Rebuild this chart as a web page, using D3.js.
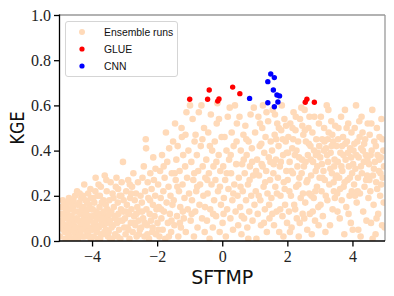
<!DOCTYPE html>
<html lang="en">
  <head>
    <meta charset="UTF-8" />
    <title>KGE vs SFTMP</title>
    <style>
      body { margin: 0; background: #fff; }
      .tick-label { font-family: "Liberation Serif", serif; font-size: 16px; fill: #222; }
      .axis-label { font-family: "DejaVu Sans", sans-serif; font-size: 19px; fill: #111; }
      .legend-text { font-family: "Liberation Sans", sans-serif; font-size: 10.4px; fill: #111; }
    </style>
  </head>
  <body>
    <script src="https://cdn.jsdelivr.net/npm/d3@7"></script>
    <script>

      // tick values
      var xTicks = [-4, -2, 0, 2, 4];
      var yTicks = [0, 0.2, 0.4, 0.6, 0.8, 1.0];

      // GLUE selected runs [SFTMP, KGE]
      var glueRuns = [[-1.00,0.627],[-0.40,0.668],[-0.45,0.627],[-0.14,0.619],[-0.10,0.628],
                      [0.32,0.681],[0.54,0.652],[2.55,0.614],[2.60,0.627],[2.83,0.614]];

      // CNN runs [SFTMP, KGE]
      var cnnRuns = [[0.84,0.631],[1.40,0.705],[1.49,0.739],[1.60,0.723],[1.57,0.668],
                     [1.68,0.646],[1.76,0.642],[1.71,0.615],[1.40,0.612],[1.60,0.594]];

      // ensemble runs [SFTMP, KGE], read band by band
      var ensembleRuns = [
        [-4.98,0.02],[-4.95,0.09],[-4.93,0.15],[-4.9,0.18],[-4.88,0.05],[-4.85,0.12],[-4.82,0.01],[-4.8,0.07],[-4.78,0.16],[-4.76,0.11],
        [-4.73,0.03],[-4.71,0.19],[-4.7,0.09],[-4.67,0.14],[-4.65,0.05],[-4.62,0.17],[-4.6,0.01],[-4.58,0.1],[-4.56,0.07],[-4.54,0.13],
        [-4.52,0.2],[-4.51,0.03],[-4.96,0.12],[-4.91,0.08],[-4.86,0.17],[-4.83,0.04],[-4.77,0.13],[-4.74,0.06],[-4.69,0.02],[-4.64,0.11],
        [-4.59,0.15],[-4.55,0.04],[-4.99,0.06],[-4.87,0.1],[-4.72,0.17],[-4.63,0.08],[-4.57,0.18],[-4.53,0.09],[-4.81,0.14],[-4.66,0.0],
        [-4.48,0.06],[-4.46,0.22],[-4.45,0.13],[-4.43,0.01],[-4.41,0.09],[-4.39,0.17],[-4.37,0.04],[-4.35,0.12],[-4.33,0.19],[-4.31,0.07],
        [-4.29,0.02],[-4.27,0.15],[-4.25,0.1],[-4.24,0.25],[-4.22,0.05],[-4.2,0.18],[-4.18,0.13],[-4.16,0.08],[-4.14,0.03],[-4.12,0.21],
        [-4.1,0.11],[-4.08,0.16],[-4.06,0.06],[-4.04,0.01],[-4.02,0.14],[-4.44,0.16],[-4.4,0.03],[-4.36,0.08],[-4.32,0.14],[-4.28,0.2],
        [-4.23,0.02],[-4.19,0.07],[-4.15,0.17],[-4.11,0.04],[-4.07,0.09],[-4.03,0.19],[-4.47,0.1],[-4.34,0.05],[-4.21,0.12],[-4.09,0.02],
        [-4.38,0.21],[-4.26,0.09],[-4.13,0.14],[-4.05,0.23],
        [-3.99,0.05],[-3.97,0.11],[-3.95,0.02],[-3.93,0.17],[-3.91,0.08],[-3.89,0.28],[-3.87,0.13],[-3.85,0.04],[-3.83,0.2],[-3.81,0.1],
        [-3.79,0.06],[-3.77,0.15],[-3.75,0.01],[-3.73,0.24],[-3.71,0.09],[-3.69,0.12],[-3.67,0.03],[-3.65,0.18],[-3.63,0.07],[-3.61,0.29],
        [-3.59,0.11],[-3.57,0.05],[-3.55,0.22],[-3.53,0.14],[-3.51,0.02],[-3.98,0.14],[-3.94,0.08],[-3.9,0.22],[-3.86,0.1],[-3.82,0.01],
        [-3.78,0.12],[-3.74,0.07],[-3.7,0.17],[-3.66,0.1],[-3.62,0.04],[-3.58,0.16],[-3.54,0.08],[-3.96,0.19],[-3.88,0.06],[-3.8,0.25],
        [-3.72,0.03],[-3.64,0.13],[-3.56,0.27],[-3.52,0.1],[-3.76,0.2],
        [-3.49,0.04],[-3.47,0.18],[-3.45,0.09],[-3.43,0.26],[-3.41,0.13],[-3.39,0.01],[-3.37,0.21],[-3.35,0.07],[-3.33,0.15],[-3.31,0.11],
        [-3.29,0.03],[-3.27,0.24],[-3.25,0.28],[-3.23,0.08],[-3.21,0.17],[-3.19,0.12],[-3.17,0.05],[-3.15,0.2],[-3.13,0.01],[-3.11,0.14],
        [-3.09,0.26],[-3.07,0.09],[-3.05,0.35],[-3.03,0.18],[-3.01,0.06],[-3.46,0.12],[-3.4,0.06],[-3.34,0.19],[-3.28,0.1],[-3.22,0.02],
        [-3.16,0.09],[-3.1,0.2],[-3.04,0.13],[-3.44,0.01],[-3.2,0.23],
        [-2.99,0.1],[-2.97,0.03],[-2.95,0.22],[-2.93,0.16],[-2.91,0.06],[-2.89,0.27],[-2.87,0.12],[-2.85,0.01],[-2.83,0.19],[-2.81,0.08],
        [-2.79,0.14],[-2.77,0.24],[-2.75,0.04],[-2.73,0.3],[-2.71,0.11],[-2.69,0.18],[-2.67,0.07],[-2.65,0.21],[-2.63,0.02],[-2.61,0.15],
        [-2.59,0.26],[-2.57,0.09],[-2.55,0.13],[-2.53,0.05],[-2.51,0.2],[-2.96,0.13],[-2.88,0.05],[-2.8,0.21],[-2.72,0.08],[-2.64,0.12],
        [-2.56,0.03],[-2.84,0.25],
        [-2.49,0.06],[-2.47,0.17],[-2.45,0.28],[-2.43,0.1],[-2.41,0.33],[-2.39,0.02],[-2.37,0.22],[-2.35,0.45],[-2.34,0.41],[-2.33,0.14],
        [-2.31,0.07],[-2.29,0.26],[-2.27,0.19],[-2.25,0.01],[-2.23,0.12],[-2.21,0.3],[-2.19,0.09],[-2.17,0.23],[-2.15,0.04],[-2.13,0.16],
        [-2.12,0.37],[-2.1,0.27],[-2.08,0.11],[-2.06,0.2],[-2.04,0.03],[-2.02,0.14],[-2.46,0.13],[-2.38,0.08],[-2.3,0.03],[-2.22,0.18],
        [-2.14,0.06],[-2.05,0.32],
        [-1.99,0.08],[-1.97,0.25],[-1.95,0.15],[-1.93,0.02],[-1.91,0.31],[-1.89,0.19],[-1.87,0.1],[-1.85,0.38],[-1.83,0.05],[-1.81,0.22],
        [-1.79,0.13],[-1.77,0.28],[-1.75,0.01],[-1.73,0.48],[-1.71,0.17],[-1.69,0.35],[-1.67,0.08],[-1.65,0.24],[-1.63,0.41],[-1.61,0.12],
        [-1.59,0.2],[-1.57,0.04],[-1.55,0.3],[-1.53,0.16],[-1.51,0.44],[-1.96,0.05],[-1.88,0.14],[-1.8,0.33],[-1.64,0.02],[-1.56,0.09],
        [-1.49,0.18],[-1.47,0.07],[-1.45,0.52],[-1.43,0.27],[-1.41,0.36],[-1.39,0.11],[-1.37,0.42],[-1.35,0.02],[-1.33,0.22],[-1.31,0.31],
        [-1.29,0.15],[-1.27,0.06],[-1.25,0.5],[-1.24,0.46],[-1.22,0.25],[-1.2,0.38],[-1.18,0.1],[-1.16,0.19],[-1.14,0.33],[-1.12,0.04],
        [-1.1,0.57],[-1.08,0.28],[-1.06,0.14],[-1.04,0.4],[-1.02,0.21],[-1.46,0.3],[-1.38,0.24],[-1.3,0.08],[-1.21,0.13],[-1.13,0.47],
        [-0.99,0.6],[-0.97,0.09],[-0.95,0.35],[-0.93,0.18],[-0.91,0.54],[-0.89,0.27],[-0.87,0.02],[-0.85,0.44],[-0.83,0.13],[-0.82,0.47],
        [-0.8,0.22],[-0.78,0.38],[-0.76,0.06],[-0.74,0.31],[-0.72,0.57],[-0.7,0.16],[-0.68,0.25],[-0.66,0.42],[-0.64,0.6],[-0.62,0.1],
        [-0.6,0.33],[-0.58,0.2],[-0.56,0.5],[-0.54,0.04],[-0.52,0.28],[-0.94,0.12],[-0.86,0.3],[-0.77,0.24],[-0.61,0.45],[-0.53,0.15],
        [-0.49,0.36],[-0.47,0.09],[-0.45,0.21],[-0.43,0.48],[-0.41,0.3],[-0.39,0.01],[-0.37,0.14],[-0.35,0.56],[-0.33,0.25],[-0.31,0.4],
        [-0.29,0.06],[-0.27,0.33],[-0.25,0.18],[-0.23,0.44],[-0.21,0.27],[-0.19,0.11],[-0.17,0.52],[-0.15,0.61],[-0.13,0.22],[-0.11,0.38],
        [-0.1,0.54],[-0.08,0.04],[-0.06,0.31],[-0.04,0.16],[-0.02,0.46],[-0.46,0.27],[-0.38,0.42],[-0.28,0.12],[-0.18,0.35],[-0.07,0.24],
        [0.01,0.08],[0.03,0.33],[0.05,0.19],[0.07,0.46],[0.09,0.27],[0.11,0.02],[0.13,0.4],[0.15,0.14],[0.17,0.55],[0.19,0.23],
        [0.21,0.36],[0.23,0.59],[0.25,0.1],[0.27,0.3],[0.29,0.48],[0.31,0.18],[0.33,0.05],[0.35,0.42],[0.37,0.25],[0.39,0.6],
        [0.41,0.13],[0.43,0.34],[0.45,0.52],[0.47,0.2],[0.49,0.07],[0.04,0.12],[0.14,0.3],[0.26,0.38],[0.34,0.21],[0.44,0.44],
        [0.51,0.28],[0.53,0.55],[0.55,0.15],[0.57,0.4],[0.59,0.03],[0.61,0.34],[0.63,0.22],[0.65,0.47],[0.67,0.1],[0.69,0.3],
        [0.71,0.51],[0.73,0.18],[0.75,0.38],[0.77,0.06],[0.79,0.25],[0.81,0.44],[0.83,0.13],[0.85,0.33],[0.87,0.56],[0.89,0.2],
        [0.91,0.41],[0.93,0.09],[0.95,0.29],[0.97,0.59],[0.99,0.16],[0.56,0.24],[0.66,0.36],[0.74,0.45],[0.84,0.27],[0.92,0.35],
        [0.6,0.11],[0.8,0.01],
        [1.01,0.48],[1.03,0.22],[1.05,0.01],[1.07,0.36],[1.09,0.12],[1.11,0.55],[1.13,0.29],[1.15,0.42],[1.17,0.18],[1.19,0.07],
        [1.21,0.34],[1.23,0.5],[1.25,0.6],[1.27,0.24],[1.29,0.39],[1.31,0.14],[1.33,0.46],[1.35,0.31],[1.37,0.04],[1.39,0.21],
        [1.41,0.53],[1.43,0.37],[1.45,0.1],[1.47,0.27],[1.49,0.44],[1.04,0.31],[1.12,0.2],[1.2,0.43],[1.28,0.08],[1.36,0.57],
        [1.44,0.16],[1.16,0.52],[1.32,0.26],[1.24,0.33],[1.48,0.35],
        [1.51,0.19],[1.53,0.4],[1.55,0.58],[1.57,0.3],[1.59,0.07],[1.61,0.47],[1.63,0.24],[1.65,0.36],[1.67,0.13],[1.69,0.52],
        [1.71,0.28],[1.73,0.42],[1.75,0.04],[1.77,0.33],[1.79,0.2],[1.81,0.49],[1.83,0.6],[1.85,0.11],[1.87,0.38],[1.89,0.26],
        [1.91,0.54],[1.93,0.16],[1.95,0.44],[1.97,0.31],[1.99,0.08],[1.54,0.12],[1.62,0.56],[1.68,0.21],[1.74,0.5],[1.8,0.35],
        [1.86,0.45],[1.92,0.23],[1.98,0.39],[1.58,0.34],[1.66,0.45],[1.78,0.14],[1.88,0.02],[1.96,0.51],
        [2.01,0.27],[2.03,0.46],[2.05,0.13],[2.07,0.35],[2.09,0.52],[2.11,0.2],[2.13,0.06],[2.15,0.41],[2.17,0.3],[2.19,0.57],
        [2.21,0.16],[2.23,0.38],[2.25,0.49],[2.27,0.24],[2.29,0.1],[2.31,0.33],[2.33,0.44],[2.35,0.02],[2.37,0.28],[2.39,0.54],
        [2.41,0.19],[2.43,0.59],[2.45,0.36],[2.47,0.12],[2.49,0.47],[2.02,0.39],[2.06,0.22],[2.12,0.31],[2.18,0.45],[2.24,0.14],
        [2.28,0.4],[2.34,0.25],[2.38,0.08],[2.44,0.3],[2.48,0.21],[2.08,0.04],[2.16,0.5],[2.26,0.55],[2.36,0.37],[2.46,0.51],
        [2.51,0.33],[2.53,0.58],[2.55,0.17],[2.57,0.44],[2.59,0.26],[2.61,0.05],[2.63,0.38],[2.65,0.5],[2.67,0.21],[2.69,0.12],
        [2.71,0.42],[2.73,0.29],[2.75,0.03],[2.77,0.48],[2.79,0.35],[2.81,0.19],[2.83,0.55],[2.85,0.09],[2.87,0.31],[2.89,0.45],
        [2.91,0.24],[2.93,0.39],[2.95,0.15],[2.97,0.52],[2.99,0.28],[2.52,0.1],[2.56,0.35],[2.62,0.27],[2.66,0.43],[2.72,0.36],
        [2.78,0.13],[2.82,0.4],[2.86,0.22],[2.92,0.33],[2.96,0.07],[2.54,0.49],[2.68,0.55],[2.74,0.2],[2.88,0.38],[2.98,0.42],
        [3.01,0.37],[3.03,0.55],[3.05,0.22],[3.07,0.45],[3.09,0.11],[3.11,0.31],[3.13,0.5],[3.15,0.27],[3.17,0.04],[3.19,0.41],
        [3.21,0.6],[3.23,0.18],[3.25,0.35],[3.27,0.48],[3.29,0.25],[3.31,0.07],[3.33,0.39],[3.35,0.53],[3.37,0.3],[3.39,0.14],
        [3.41,0.44],[3.43,0.22],[3.45,0.36],[3.47,0.51],[3.49,0.28],[3.02,0.16],[3.06,0.34],[3.12,0.4],[3.18,0.2],[3.24,0.45],
        [3.26,0.58],[3.32,0.32],[3.36,0.42],[3.42,0.26],[3.46,0.19],[3.08,0.28],[3.14,0.44],[3.22,0.38],[3.38,0.47],[3.44,0.33],
        [3.51,0.42],[3.53,0.21],[3.55,0.35],[3.57,0.5],[3.59,0.28],[3.61,0.1],[3.63,0.39],[3.65,0.55],[3.67,0.18],[3.69,0.31],
        [3.71,0.46],[3.73,0.24],[3.75,0.03],[3.77,0.58],[3.79,0.36],[3.81,0.15],[3.83,0.44],[3.85,0.27],[3.87,0.52],[3.89,0.33],
        [3.91,0.2],[3.93,0.41],[3.95,0.08],[3.97,0.48],[3.99,0.3],[3.52,0.29],[3.56,0.45],[3.62,0.23],[3.66,0.33],[3.72,0.38],
        [3.76,0.26],[3.82,0.5],[3.86,0.39],[3.92,0.28],[3.96,0.37],[3.54,0.13],[3.68,0.42],[3.78,0.43],[3.88,0.12],[3.98,0.22],
        [4.01,0.05],[4.03,0.4],[4.05,0.25],[4.07,0.5],[4.09,0.32],[4.11,0.6],[4.13,0.17],[4.15,0.44],[4.17,0.28],[4.19,0.37],
        [4.21,0.53],[4.23,0.21],[4.25,0.02],[4.27,0.41],[4.29,0.3],[4.31,0.48],[4.33,0.13],[4.35,0.35],[4.37,0.24],[4.39,0.45],
        [4.41,0.38],[4.43,0.09],[4.45,0.29],[4.47,0.52],[4.49,0.19],[4.02,0.34],[4.06,0.43],[4.12,0.38],[4.16,0.22],[4.22,0.46],
        [4.26,0.33],[4.32,0.4],[4.36,0.43],[4.42,0.27],[4.46,0.36],[4.08,0.2],[4.18,0.05],[4.28,0.55],
        [4.51,0.34],[4.53,0.47],[4.55,0.22],[4.57,0.08],[4.59,0.4],[4.61,0.58],[4.63,0.29],[4.65,0.16],[4.67,0.44],[4.69,0.35],
        [4.71,0.03],[4.73,0.26],[4.75,0.5],[4.77,0.38],[4.79,0.12],[4.81,0.31],[4.83,0.46],[4.85,0.2],[4.87,0.37],[4.89,0.54],
        [4.91,0.07],[4.93,0.28],[4.95,0.4],[4.97,0.33],[4.99,0.06],[4.52,0.27],[4.56,0.38],[4.62,0.01],[4.66,0.32],[4.72,0.42],
        [4.76,0.23],[4.82,0.36],[4.86,0.3],[4.92,0.45],[4.96,0.17],[4.58,0.52],[4.74,0.1],[4.88,0.25]
      ];

      var legendItems = ["Ensemble runs", "GLUE", "CNN"];
      var legendColors = ["#ffdab9", "#ff0000", "#0000ff"];

      var w = 394;
      var h = 296;

      var margin = {
        top: 15,
        right: 9,
        left: 59.5,
        bottom: 55
      };

      var svg = d3.select("body")
                  .append("svg")
                  .attr("width", w)
                  .attr("height", h);

      var xScale = d3.scaleLinear()
                     .domain([-5, 5])
                     .range([margin.left, w - margin.right]);

      var yScale = d3.scaleLinear()
                     .domain([0, 1])
                     .range([h - margin.bottom, margin.top]);

      svg.append("clipPath")
         .attr("id", "plot-clip")
         .append("rect")
         .attr("x", margin.left)
         .attr("y", margin.top)
         .attr("width", w - margin.right - margin.left)
         .attr("height", h - margin.bottom - margin.top);

      var plot = svg.append("g")
                    .attr("clip-path", "url(#plot-clip)");

      plot.selectAll(".ens")
          .data(ensembleRuns)
          .enter()
          .append("circle")
          .attr("class", "ens")
          .attr("cx", function(d) { return xScale(d[0]); })
          .attr("cy", function(d) { return yScale(d[1]); })
          .attr("r", 3.3)
          .style("fill", legendColors[0]);

      plot.selectAll(".glue")
          .data(glueRuns)
          .enter()
          .append("circle")
          .attr("class", "glue")
          .attr("cx", function(d) { return xScale(d[0]); })
          .attr("cy", function(d) { return yScale(d[1]); })
          .attr("r", 2.7)
          .style("fill", legendColors[1]);

      plot.selectAll(".cnn")
          .data(cnnRuns)
          .enter()
          .append("circle")
          .attr("class", "cnn")
          .attr("cx", function(d) { return xScale(d[0]); })
          .attr("cy", function(d) { return yScale(d[1]); })
          .attr("r", 2.7)
          .style("fill", legendColors[2]);

      // axes
      var fmtMinus = function(s) { return s.replace("-", "\u2212"); };

      var xAxis = d3.axisBottom(xScale)
                    .tickValues(xTicks)
                    .tickSize(5.5)
                    .tickPadding(4)
                    .tickFormat(function(d) { return fmtMinus(d3.format("d")(d)); });

      var yAxis = d3.axisLeft(yScale)
                    .tickValues(yTicks)
                    .tickSize(5.5)
                    .tickPadding(3)
                    .tickFormat(d3.format(".1f"));

      var gx = svg.append("g")
                  .attr("transform", "translate(0," + (h - margin.bottom) + ")")
                  .call(xAxis);

      var gy = svg.append("g")
                  .attr("transform", "translate(" + margin.left + ",0)")
                  .call(yAxis);

      [gx, gy].forEach(function(g) {
        g.select(".domain").remove();
        g.selectAll(".tick line").style("stroke", "#000").style("stroke-width", 1.3);
        g.selectAll(".tick text").attr("class", "tick-label").attr("font-family", null).attr("font-size", null);
        g.attr("font-family", null).attr("font-size", null);
      });

      // spines: top/right grey, left/bottom black
      var x0 = xScale(-5), x1 = xScale(5), y0 = yScale(0), y1 = yScale(1);

      svg.append("line")
         .attr("x1", x0).attr("x2", x1).attr("y1", y1).attr("y2", y1)
         .style("stroke", "#999").style("stroke-width", 1.3);
      svg.append("line")
         .attr("x1", x1).attr("x2", x1).attr("y1", y0).attr("y2", y1)
         .style("stroke", "#999").style("stroke-width", 1.3);
      svg.append("line")
         .attr("x1", x0).attr("x2", x0).attr("y1", y0 + 0.6).attr("y2", y1 - 0.6)
         .style("stroke", "#000").style("stroke-width", 1.3);
      svg.append("line")
         .attr("x1", x0 - 0.6).attr("x2", x1).attr("y1", y0).attr("y2", y0)
         .style("stroke", "#000").style("stroke-width", 1.3);

      // axis labels
      svg.append("text")
         .attr("class", "axis-label")
         .attr("x", (x0 + x1) / 2)
         .attr("y", 283.5)
         .attr("text-anchor", "middle")
         .text("SFTMP");

      svg.append("text")
         .attr("class", "axis-label")
         .attr("transform", "translate(23.5," + 128 + ") rotate(-90)")
         .attr("text-anchor", "middle")
         .attr("textLength", 33)
         .attr("lengthAdjust", "spacingAndGlyphs")
         .text("KGE");

      // legend
      var legend = svg.append("g")
                      .attr("transform", "translate(65.5,21.5)");

      legend.append("rect")
            .attr("width", 112)
            .attr("height", 55)
            .attr("rx", 2.5)
            .style("fill", "#fff")
            .style("fill-opacity", 0.8)
            .style("stroke", "#d5d5d5")
            .style("stroke-width", 1);

      legendItems.forEach(function(name, i) {
        legend.append("circle")
              .attr("cx", 16.5)
              .attr("cy", 10.5 + i * 17)
              .attr("r", i === 0 ? 3 : 2.6)
              .style("fill", legendColors[i]);
        legend.append("text")
              .attr("class", "legend-text")
              .attr("x", 38.5)
              .attr("y", 14.2 + i * 17)
              .text(name);
      });

    </script>
  </body>
</html>
